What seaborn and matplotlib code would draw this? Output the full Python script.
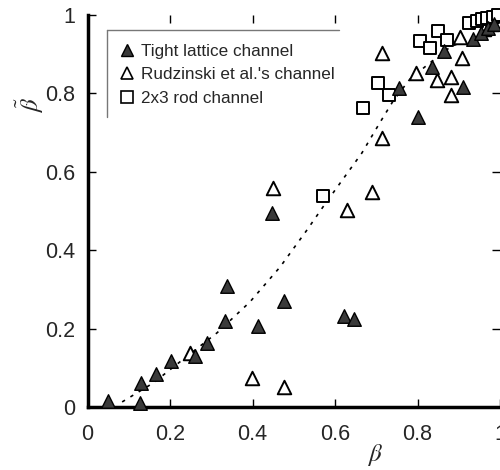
import matplotlib
matplotlib.use("Agg")
import matplotlib.pyplot as plt
import seaborn as sns
from matplotlib.lines import Line2D

# ---- data ----
tight_x = [0.05, 0.127, 0.13, 0.166, 0.202, 0.26, 0.29, 0.333, 0.338, 0.413, 0.448,
           0.476, 0.622, 0.646, 0.755, 0.801, 0.835, 0.864, 0.911, 0.935, 0.955, 0.97, 0.985]
tight_y = [0.015, 0.01, 0.06, 0.084, 0.117, 0.13, 0.163, 0.219, 0.308, 0.206, 0.494,
           0.27, 0.232, 0.224, 0.813, 0.739, 0.866, 0.908, 0.815, 0.937, 0.953, 0.966, 0.976]

rudz_x = [0.248, 0.399, 0.476, 0.45, 0.629, 0.69, 0.714, 0.714, 0.796, 0.847, 0.881,
          0.881, 0.908, 0.902, 0.96, 0.98]
rudz_y = [0.138, 0.074, 0.05, 0.558, 0.503, 0.549, 0.686, 0.902, 0.85, 0.833, 0.84,
          0.796, 0.89, 0.942, 0.962, 0.975]

rod_x = [0.571, 0.668, 0.704, 0.731, 0.806, 0.83, 0.85, 0.871, 0.925, 0.944, 0.956,
         0.968, 0.983, 0.995]
rod_y = [0.537, 0.761, 0.825, 0.795, 0.932, 0.915, 0.958, 0.935, 0.978, 0.983, 0.989,
         0.991, 0.994, 0.999]

fit_x = [0.084, 0.159, 0.224, 0.314, 0.394, 0.467, 0.532, 0.571, 0.612, 0.665, 0.709,
         0.741, 0.782, 0.823, 0.879, 0.935, 0.983]
fit_y = [0.013, 0.061, 0.115, 0.189, 0.268, 0.357, 0.451, 0.51, 0.57, 0.647, 0.725,
         0.78, 0.836, 0.871, 0.917, 0.943, 0.968]

labels = ["Tight lattice channel", "Rudzinski et al.'s channel", "2x3 rod channel"]
ticks = [0, 0.2, 0.4, 0.6, 0.8, 1]
tick_labels = ["0", "0.2", "0.4", "0.6", "0.8", "1"]

# ---- style ----
sns.set_style("white")
plt.rcParams["font.family"] = ["Liberation Sans", "DejaVu Sans"]
plt.rcParams["mathtext.fontset"] = "stix"

fig = plt.figure(figsize=(5.0, 4.7), dpi=100)
ax = fig.add_axes([0.175, 0.134, 0.825, 0.835])

sns.lineplot(x=fit_x, y=fit_y, ax=ax, sort=False, estimator=None, color="black",
             linewidth=1.2, linestyle=(0, (2.0, 3.8)), zorder=1)
sns.scatterplot(x=tight_x, y=tight_y, ax=ax, marker="^", s=95, color="#3a3a3a",
                edgecolor="black", linewidth=1.0, zorder=3, clip_on=False)
sns.scatterplot(x=rudz_x, y=rudz_y, ax=ax, marker="^", s=95, color="white",
                edgecolor="black", linewidth=1.4, zorder=2, clip_on=False)
sns.scatterplot(x=rod_x, y=rod_y, ax=ax, marker="s", s=80, color="white",
                edgecolor="black", linewidth=1.4, zorder=2, clip_on=False)

ax.set_xlim(0, 1)
ax.set_ylim(0, 1)
ax.set_xticks(ticks)
ax.set_xticklabels(tick_labels)
ax.set_yticks(ticks)
ax.set_yticklabels(tick_labels)
ax.tick_params(axis="both", which="both", direction="in", length=6, width=1.0,
               color="black", labelsize=15.5, top=True, right=True, bottom=True, left=True)
ax.tick_params(axis="x", pad=12)
ax.tick_params(axis="y", pad=9)

for side in ["top", "right"]:
    ax.spines[side].set_visible(False)
for side in ["left", "bottom"]:
    ax.spines[side].set_linewidth(2.5)
    ax.spines[side].set_color("black")

ax.set_xlabel(r"$\beta$", fontsize=18)
ax.set_ylabel(r"$\tilde{\beta}$", fontsize=18)
ax.xaxis.set_label_coords(0.697, -0.122)
ax.xaxis.label.set_va("center")
ax.yaxis.set_label_coords(-0.139, 0.77)
ax.yaxis.label.set_va("center")

handles = [
    Line2D([], [], marker="^", linestyle="none", markersize=9, markerfacecolor="#3a3a3a",
           markeredgecolor="black", markeredgewidth=1.0),
    Line2D([], [], marker="^", linestyle="none", markersize=9, markerfacecolor="white",
           markeredgecolor="black", markeredgewidth=1.2),
    Line2D([], [], marker="s", linestyle="none", markersize=8, markerfacecolor="white",
           markeredgecolor="black", markeredgewidth=1.2),
]
leg = ax.legend(handles, labels, loc="upper left", bbox_to_anchor=(0.054, 0.948),
                frameon=False, fontsize=12.3, handlelength=1.0, handletextpad=0.35,
                labelspacing=0.5, borderpad=0.5, borderaxespad=0)
# legend frame: only top and left edges visible in the reference
ax.add_line(Line2D([0.047, 0.61], [0.96, 0.96], transform=ax.transAxes,
                   color="#777777", linewidth=1.0, clip_on=False))
ax.add_line(Line2D([0.047, 0.047], [0.96, 0.739], transform=ax.transAxes,
                   color="#777777", linewidth=1.0, clip_on=False))

fig.savefig("out.png", dpi=100)
